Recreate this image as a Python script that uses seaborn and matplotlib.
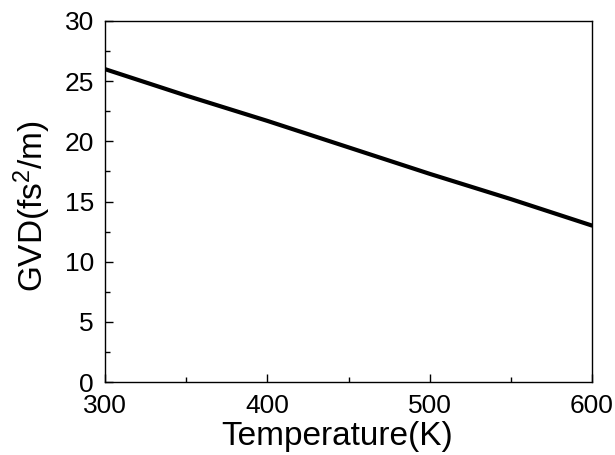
import matplotlib
matplotlib.use("Agg")
import matplotlib.pyplot as plt
import seaborn as sns
import pandas as pd
from matplotlib.ticker import MultipleLocator

temperature = [300, 350, 400, 450, 500, 550, 600]
gvd = [26.0, 23.8, 21.7, 19.5, 17.3, 15.2, 13.0]
x_ticks = [300, 400, 500, 600]
y_ticks = [0, 5, 10, 15, 20, 25, 30]

sns.set_theme(style="white")
plt.rcParams['font.family'] = ['Liberation Sans', 'DejaVu Sans']
plt.rcParams['mathtext.fontset'] = 'custom'
plt.rcParams['mathtext.rm'] = 'Liberation Sans'
plt.rcParams['mathtext.it'] = 'Liberation Sans'
plt.rcParams['mathtext.default'] = 'regular'
plt.rcParams['text.color'] = 'black'
plt.rcParams['axes.labelcolor'] = 'black'
plt.rcParams['xtick.color'] = 'black'
plt.rcParams['ytick.color'] = 'black'

df = pd.DataFrame({"Temperature": temperature, "GVD": gvd})

fig = plt.figure(figsize=(6.15, 4.55), dpi=100)
ax = fig.add_axes([105/615, 1-382/455, (592-105)/615, (382-21)/455])
sns.lineplot(data=df, x="Temperature", y="GVD", ax=ax, color="black", linewidth=3)

ax.set_xlim(300, 600)
ax.set_ylim(0, 30)
ax.set_xticks(x_ticks)
ax.set_yticks(y_ticks)
ax.xaxis.set_minor_locator(MultipleLocator(50))
ax.yaxis.set_minor_locator(MultipleLocator(2.5))
ax.tick_params(which='both', direction='in', top=False, right=False,
               bottom=True, left=True, colors='black', labelcolor='black', width=1.0)
ax.tick_params(which='major', length=6, labelsize=19)
ax.tick_params(axis='x', which='major', pad=8.5)
ax.tick_params(axis='y', which='major', pad=8)
ax.tick_params(which='minor', length=3.5)
for s in ax.spines.values():
    s.set_visible(True)
    s.set_color('black')
    s.set_linewidth(1.0)

ax.set_xlabel("Temperature(K)", fontsize=24, color='black')
ax.set_ylabel(r"GVD(fs$^{2}$/m)", fontsize=24, color='black')
ax.xaxis.set_label_coords((337-105)/487, -0.108)
ax.yaxis.set_label_coords(-0.107, 0.4875)

fig.savefig("out.png", dpi=100)
